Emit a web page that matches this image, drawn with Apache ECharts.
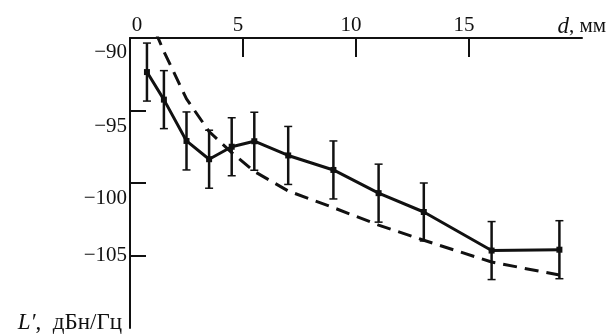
<!DOCTYPE html>
<html>
<head>
<meta charset="utf-8">
<script src="https://cdn.jsdelivr.net/npm/echarts@6/dist/echarts.min.js"></script>
<style>
  html, body { margin: 0; padding: 0; background: #fff; }
  #chart { width: 609px; height: 336px; }
</style>
</head>
<body>
<div id="chart"></div>
<script>
// ---- data ----
const dValues   = [0.75, 1.5, 2.5, 3.5, 4.5, 5.5, 7, 9, 11, 13, 16, 19];
const measured  = [-92.35, -94.25, -97.1, -98.36, -97.5, -97.12, -98.1, -99.1, -100.7, -102.0, -104.66, -104.6];
const errHalf   = [2, 2, 2, 2, 2, 2, 2, 2, 2, 2, 2, 2];
const theoryD   = [0.75, 1.5, 2.5, 3.5, 4.5, 5.5, 7, 9, 11, 13, 16, 19];
const theory    = [-88.2, -90.93, -94.2, -96.45, -97.9, -99.2, -100.55, -101.7, -102.9, -103.95, -105.45, -106.35];
const xTickLabels = [0, 5, 10, 15];
const xTicks      = [5, 10, 15];
const yTickLabels = [-90, -95, -100, -105];
const yTicks      = [-95, -100, -105];

const FONT = '"Liberation Serif", "DejaVu Serif", serif';
const INK = '#111';
const GRID = { left: 130, right: 26, top: 38, bottom: 8 };

const measuredData = dValues.map((d, i) => [d, measured[i]]);
const theoryData = theoryD.map((d, i) => [d, theory[i]]);
const errData = dValues.map((d, i) => [d, measured[i] - errHalf[i], measured[i] + errHalf[i]]);

const chart = echarts.init(document.getElementById('chart'), null, { renderer: 'canvas' });
chart.setOption({
  animation: false,
  backgroundColor: '#fff',
  grid: Object.assign({ containLabel: false }, GRID),
  xAxis: {
    type: 'value', position: 'top', min: 0, max: 20, interval: 5,
    splitLine: { show: false },
    axisLine: { show: true, onZero: false, lineStyle: { color: INK, width: 2 } },
    axisTick: { show: true, inside: true, length: 19, customValues: xTicks, lineStyle: { color: INK, width: 2 } },
    axisLabel: {
      show: true, customValues: xTickLabels, margin: 2,
      fontFamily: FONT, fontSize: 21, color: INK,
      formatter: v => v === 0 ? '{z|0}' : '{n|' + v + '}',
      rich: {
        z: { fontFamily: FONT, fontSize: 21, color: INK, padding: [0, 0, 0, 14] },
        n: { fontFamily: FONT, fontSize: 21, color: INK, padding: [0, 10, 0, 0] }
      }
    },
    name: '{i|d}{r|, мм}',
    nameLocation: 'end', nameGap: 24,
    nameTextStyle: {
      align: 'right', verticalAlign: 'bottom', padding: [0, 0, 0, 0],
      rich: {
        i: { fontFamily: FONT, fontSize: 23, fontStyle: 'italic', color: INK },
        r: { fontFamily: FONT, fontSize: 21, color: INK }
      }
    }
  },
  yAxis: {
    type: 'value', min: -110, max: -90, interval: 5,
    splitLine: { show: false },
    axisLine: { show: true, onZero: false, lineStyle: { color: INK, width: 2 } },
    axisTick: { show: true, inside: true, length: 16, customValues: yTicks, lineStyle: { color: INK, width: 2 } },
    axisLabel: {
      show: true, customValues: yTickLabels, margin: 3,
      fontFamily: FONT, fontSize: 21, color: INK,
      formatter: v => {
        const s = '\u2212' + Math.abs(v);
        if (v === -105) return '{a|' + s + '}';
        const gap = v === -95 ? 'g32' : (v === -90 ? 'g28' : 'g30');
        return '{' + gap + '| }\n{a|' + s + '}';
      },
      rich: {
        a: { fontFamily: FONT, fontSize: 21, color: INK, lineHeight: 24 },
        g28: { fontFamily: FONT, fontSize: 10, color: INK, lineHeight: 28 },
        g30: { fontFamily: FONT, fontSize: 10, color: INK, lineHeight: 30 },
        g32: { fontFamily: FONT, fontSize: 10, color: INK, lineHeight: 32 }
      }
    },
    name: '{i|L\u2032}{r|,  дБн/Гц}',
    nameLocation: 'start', nameGap: -5,
    nameTextStyle: {
      align: 'right', verticalAlign: 'middle', padding: [0, 8, 0, 0],
      rich: {
        i: { fontFamily: FONT, fontSize: 23, fontStyle: 'italic', color: INK },
        r: { fontFamily: FONT, fontSize: 23, color: INK }
      }
    }
  },
  series: [
    {
      name: 'theory', type: 'line', data: theoryData, clip: true,
      symbol: 'none', smooth: false,
      lineStyle: { color: INK, width: 3, type: [14, 8] },
      z: 2
    },
    {
      name: 'measured', type: 'line', data: measuredData,
      symbol: 'rect', symbolSize: 6, itemStyle: { color: INK },
      lineStyle: { color: INK, width: 3 },
      z: 3
    },
    {
      name: 'error', type: 'custom', data: errData, z: 4,
      renderItem: function (params, api) {
        const x = api.value(0);
        const lo = api.coord([x, api.value(1)]);
        const hi = api.coord([x, api.value(2)]);
        const hw = 4;
        const st = { stroke: INK, lineWidth: 2.5 };
        const cs = { stroke: INK, lineWidth: 1.5 };
        return {
          type: 'group',
          children: [
            { type: 'line', shape: { x1: lo[0], y1: lo[1], x2: hi[0], y2: hi[1] }, style: st },
            { type: 'line', shape: { x1: lo[0] - hw, y1: lo[1], x2: lo[0] + hw, y2: lo[1] }, style: cs },
            { type: 'line', shape: { x1: hi[0] - hw, y1: hi[1], x2: hi[0] + hw, y2: hi[1] }, style: cs }
          ]
        };
      }
    }
  ]
});
</script>
</body>
</html>
